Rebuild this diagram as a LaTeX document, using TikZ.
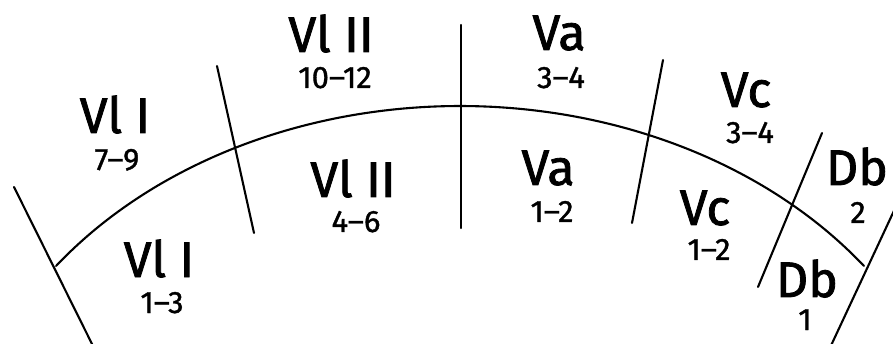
\documentclass[tikz,border=0pt]{standalone}
\usepackage{fontspec}
\setmainfont{Fira Sans}
\newfontfamily\bigfont{Fira Sans}[FakeBold=1.6]
\newfontfamily\numfont{Fira Sans}[FakeBold=1.1]
\begin{document}
\begin{tikzpicture}[x=1pt,y=-1pt,
  sect/.style={line width=2.1pt, line cap=round},
  big/.style={anchor=base, inner sep=0pt, font=\bigfont\fontsize{50}{50}\selectfont},
  num/.style={anchor=base, inner sep=0pt, font=\numfont\fontsize{31}{31}\selectfont}]
\clip (0,0) rectangle (893,344);
% arc
\draw[sect] plot[domain=216.87:323.13, samples=120, smooth] ({460+505*cos(\x)}, {506+400*sin(\x)});
% dividers
\coordinate (a1) at (14,187);  \coordinate (b1) at (96,352);
\coordinate (a2) at (217,66);  \coordinate (b2) at (254,233);
\coordinate (a3) at (461,25);  \coordinate (b3) at (461,228);
\coordinate (a4) at (663,60);  \coordinate (b4) at (632,223);
\coordinate (a5) at (822,133); \coordinate (b5) at (758,287);
\coordinate (a6) at (899,200); \coordinate (b6) at (828,352);
\foreach \i in {1,...,6} \draw[sect] (a\i) -- (b\i);
% labels
\node[big] (t1) at (115,133) {Vl I};
\node[num] (n1) at (117,170) {7–9};
\node[big] (t2) at (331,52) {Vl II};
\node[num] (n2) at (335,88) {10–12};
\node[big] (t3) at (353,197) {Vl II};
\node[num] (n3) at (356,232) {4–6};
\node[big] (t4) at (159,277) {Vl I};
\node[num] (n4) at (162,313) {1–3};
\node[big] (t5) at (559,50) {Va};
\node[num] (n5) at (561,88) {3–4};
\node[big] (t6) at (548,185) {Va};
\node[num] (n6) at (552,222) {1–2};
\node[big] (t7) at (746,107) {Vc};
\node[num] (n7) at (750,143) {3–4};
\node[big] (t8) at (705,225) {Vc};
\node[num] (n8) at (709,260) {1–2};
\node[big] (t9) at (857,185) {Db};
\node[num] (n9) at (858,223) {2};
\node[big] (t10) at (807,297) {Db};
\node[num] (n10) at (805,330) {1};
\end{tikzpicture}
\end{document}
